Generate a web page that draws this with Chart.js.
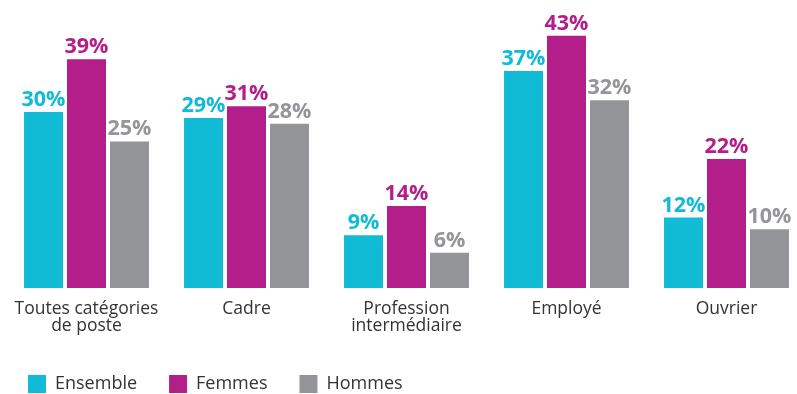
<!DOCTYPE html>
<html lang="fr">
<head>
<meta charset="utf-8">
<title>Part par catégorie de poste</title>
<script src="https://cdn.jsdelivr.net/npm/chart.js@4/dist/chart.umd.min.js"></script>
<style>
  html, body { margin: 0; padding: 0; background: #fff; overflow: hidden; }
  #wrap { width: 797px; height: 394px; }
</style>
</head>
<body>
<div id="wrap"><canvas id="chart" width="797" height="394"></canvas></div>
<script>
// Catégories de poste (libellés sur deux lignes si besoin)
var categories = [
  ['Toutes catégories', 'de poste'],
  'Cadre',
  ['Profession', 'intermédiaire'],
  'Employé',
  'Ouvrier'
]

// Valeurs en %
var ensemble = [30, 29, 9, 37, 12]
var femmes   = [39, 31, 14, 43, 22]
var hommes   = [25, 28, 6, 32, 10]

var seriesNames = ['Ensemble', 'Femmes', 'Hommes']
var colors = ['#12bbd5', '#b31e8a', '#949599']

var fontFamily = '"Open Sans", Roboto, sans-serif'

// Petit plugin pour écrire la valeur au-dessus de chaque barre
var valueLabels = {
  id: 'valueLabels',
  afterDatasetsDraw(chart) {
    var ctx = chart.ctx
    ctx.save()
    ctx.font = 'bold 21.5px ' + fontFamily
    ctx.textAlign = 'center'
    ctx.textBaseline = 'alphabetic'
    chart.data.datasets.forEach((ds, i) => {
      var meta = chart.getDatasetMeta(i)
      ctx.fillStyle = ds.backgroundColor
      meta.data.forEach((bar, j) => {
        ctx.fillText(ds.data[j] + '%', bar.x, bar.y - 6)
      })
    })
    ctx.restore()
  }
}

var datasets = [ensemble, femmes, hommes].map((values, i) => {
  return {
    label: seriesNames[i],
    data: values,
    backgroundColor: colors[i],
    borderWidth: 0,
    categoryPercentage: 0.806,
    barPercentage: 0.907,
    clip: false
  }
})

new Chart(document.getElementById('chart'), {
  type: 'bar',
  data: { labels: categories, datasets: datasets },
  plugins: [valueLabels],
  options: {
    responsive: false,
    animation: false,
    // la légende démarre à padding.left + labels.padding
    layout: { padding: { top: 10, right: 70.5, bottom: -9, left: -4 } },
    plugins: {
      tooltip: { enabled: false },
      legend: {
        position: 'bottom',
        align: 'start',
        labels: {
          boxWidth: 18,
          boxHeight: 18,
          padding: 32,
          color: '#333',
          font: { family: fontFamily, size: 18 }
        }
      }
    },
    scales: {
      x: {
        offset: false,
        grid: { display: false },
        border: { display: false },
        ticks: {
          autoSkip: false,
          maxRotation: 0,
          padding: 5,
          color: '#333',
          font: { family: fontFamily, size: 17.5, lineHeight: 0.97 }
        },
        afterFit(scale) { scale.height = 55 }
      },
      y: {
        min: 0,
        max: 47.4,
        grid: { display: false },
        border: { display: false },
        ticks: { display: false },
        afterFit(scale) { scale.width = 90.5 }
      }
    }
  }
})
</script>
</body>
</html>
